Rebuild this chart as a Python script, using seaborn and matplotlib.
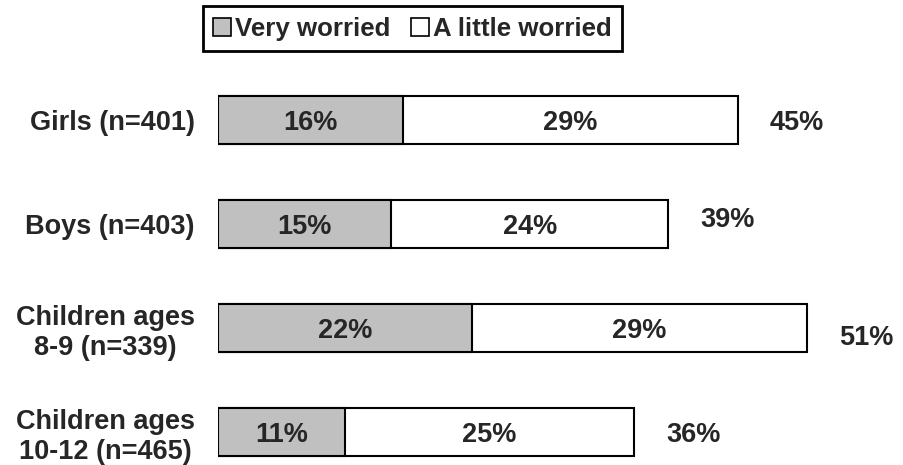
import pandas as pd
import seaborn as sns
import matplotlib.pyplot as plt
from matplotlib.patches import Patch

# Chart values
groups = ["Girls (n=401)", "Boys (n=403)", "Children ages\n8-9 (n=339)", "Children ages\n10-12 (n=465)"]
very_worried = [16, 15, 22, 11]
little_worried = [29, 24, 29, 25]
totals = [45, 39, 51, 36]

df = pd.DataFrame({
    "group": groups,
    "very": very_worried,
    "little": little_worried,
    "total": totals,
})

sns.set_theme(style="white")
plt.rcParams["font.family"] = ["Liberation Sans", "DejaVu Sans"]
plt.rcParams["font.weight"] = "bold"

fig = plt.figure(figsize=(9.04, 4.65), dpi=100)
ax = fig.add_axes([0.241, 0.0, 0.759, 1.0])

# Total bar drawn first (white), very worried part over it (grey)
sns.barplot(data=df, x="total", y="group", orient="h", color="white",
            edgecolor="black", linewidth=1.5, width=0.47, ax=ax)
sns.barplot(data=df, x="very", y="group", orient="h", color="#c0c0c0",
            edgecolor="black", linewidth=1.5, width=0.47, ax=ax)
for i in range(4):
    ax.patches[i].set_facecolor("white")
for i in range(4, 8):
    ax.patches[i].set_facecolor("#c0c0c0")

fs = 19.5
# small vertical nudges of the total labels, as in the original
total_nudge = [0, -0.07, 0.07, 0]
for i, row in df.iterrows():
    ax.text(row["very"] / 2, i, f"{row['very']}%", ha="center", va="center_baseline",
            fontsize=fs, fontweight="bold")
    ax.text(row["very"] + row["little"] / 2, i, f"{row['little']}%", ha="center",
            va="center_baseline", fontsize=fs, fontweight="bold")
    ax.text(row["total"] + 2.8, i + total_nudge[i], f"{row['total']}%", ha="left",
            va="center_baseline", fontsize=fs, fontweight="bold")

ax.set_xlim(0, 59.4)
ax.set_ylim(3.317, -1.154)
ax.set_xlabel("")
ax.set_ylabel("")
ax.set_xticks([])
ax.tick_params(axis="y", length=0, pad=16.5, labelsize=fs)
for lab in ax.get_yticklabels():
    lab.set_fontweight("bold")
    lab.set_multialignment("center")
    lab.set_linespacing(1.2)
sns.despine(ax=ax, left=True, bottom=True)

handles = [
    Patch(facecolor="#c0c0c0", edgecolor="black", linewidth=1.2, label="Very worried"),
    Patch(facecolor="white", edgecolor="black", linewidth=1.2, label="A little worried"),
]
leg = fig.legend(handles=handles, loc="center", bbox_to_anchor=(0.456, 0.938), ncol=2,
                 frameon=True, fancybox=False, edgecolor="black", framealpha=1,
                 prop={"size": 18.6, "weight": "bold"}, handlelength=0.7, handleheight=0.7,
                 handletextpad=0.15, columnspacing=0.8, borderpad=0.4, borderaxespad=0)
leg.get_frame().set_linewidth(2)

fig.savefig("out.png", dpi=100)
